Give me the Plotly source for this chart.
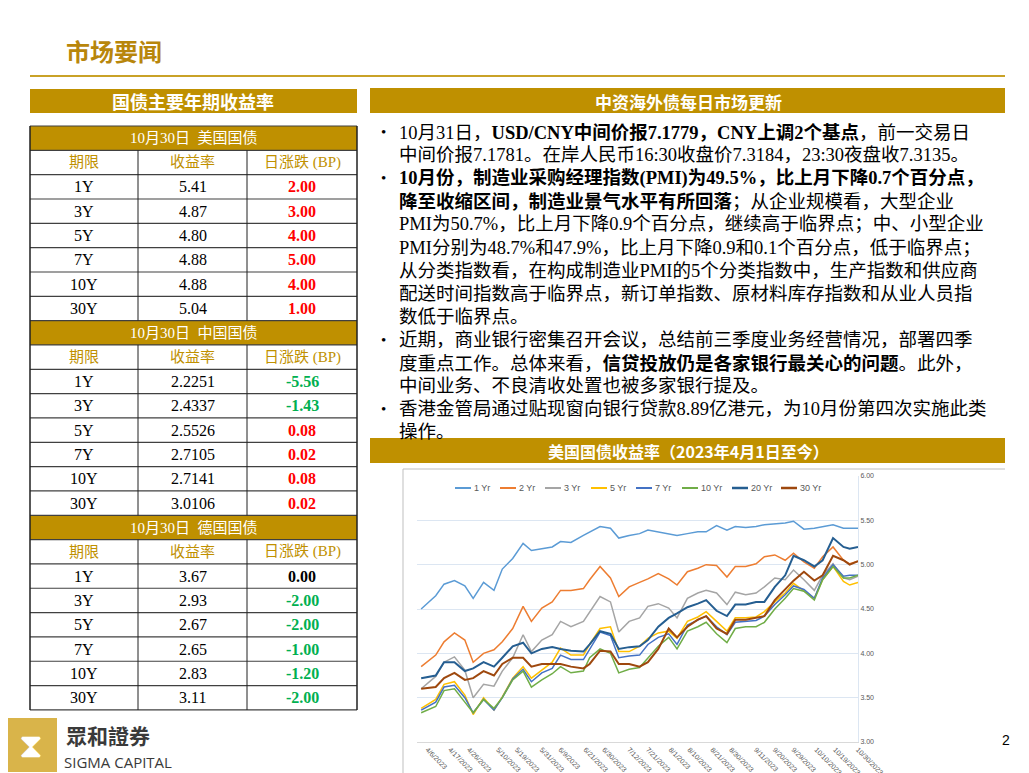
import plotly.graph_objects as go
import pandas as pd

W, H = 1029, 773
OFF = 8  # page body margin
GOLD = "#BF9000"
SERIF = "Liberation Serif, Noto Sans CJK SC"
CJK = "Noto Sans CJK SC"

# ---------------- data ----------------
DATES = ["2023-04-03","2023-04-10","2023-04-14","2023-04-19","2023-04-24","2023-04-28","2023-05-03",
         "2023-05-08","2023-05-12","2023-05-17","2023-05-22","2023-05-26","2023-05-31","2023-06-05",
         "2023-06-09","2023-06-14","2023-06-20","2023-06-23","2023-06-28","2023-07-03","2023-07-07",
         "2023-07-12","2023-07-17","2023-07-21","2023-07-26","2023-07-31","2023-08-04","2023-08-09",
         "2023-08-14","2023-08-18","2023-08-23","2023-08-28","2023-09-01","2023-09-06","2023-09-11",
         "2023-09-15","2023-09-20","2023-09-25","2023-09-29","2023-10-04","2023-10-09","2023-10-13",
         "2023-10-18","2023-10-23","2023-10-26","2023-10-30"]
Y1 = [4.50,4.65,4.78,4.82,4.76,4.62,4.80,4.71,4.95,5.07,5.24,5.16,5.18,5.20,5.26,5.25,5.33,5.37,5.43,5.41,
      5.30,5.33,5.35,5.39,5.37,5.35,5.33,5.35,5.37,5.37,5.44,5.39,5.43,5.42,5.43,5.45,5.46,5.47,5.49,5.40,
      5.41,5.43,5.45,5.41,5.41,5.41]
Y2 = [3.85,3.98,4.13,4.23,4.15,3.90,4.00,4.04,4.13,4.28,4.53,4.36,4.51,4.58,4.71,4.71,4.73,4.83,4.98,4.85,
      4.64,4.75,4.80,4.84,4.90,4.84,4.77,4.92,4.96,5.00,4.99,4.86,4.98,4.98,5.01,5.09,5.11,5.05,5.13,5.03,
      4.96,5.09,5.20,5.05,5.01,5.04]
Y3 = [3.60,3.74,3.90,3.96,3.81,3.50,3.65,3.63,3.80,3.95,4.21,4.02,4.15,4.21,4.36,4.30,4.36,4.47,4.64,4.58,
      4.24,4.36,4.40,4.53,4.56,4.51,4.40,4.62,4.68,4.71,4.68,4.55,4.69,4.66,4.68,4.75,4.85,4.83,4.94,4.83,
      4.71,4.88,5.01,4.85,4.83,4.87]
Y5 = [3.38,3.48,3.65,3.68,3.53,3.31,3.50,3.36,3.51,3.72,3.85,3.72,3.81,3.90,4.06,3.98,3.98,4.10,4.28,4.30,
      4.02,4.02,4.08,4.17,4.23,4.25,4.17,4.36,4.41,4.47,4.36,4.25,4.40,4.40,4.41,4.47,4.58,4.68,4.79,4.71,
      4.62,4.83,4.98,4.81,4.77,4.80]
Y7 = [3.36,3.45,3.62,3.64,3.50,3.33,3.48,3.36,3.50,3.71,3.82,3.68,3.78,3.83,3.98,3.93,3.93,4.05,4.24,4.20,
      3.95,3.97,3.98,4.10,4.18,4.22,4.10,4.32,4.38,4.42,4.30,4.21,4.35,4.36,4.37,4.42,4.55,4.66,4.76,4.72,
      4.62,4.85,5.00,4.87,4.88,4.88]
Y10 = [3.33,3.40,3.58,3.60,3.45,3.33,3.48,3.38,3.50,3.70,3.80,3.62,3.70,3.77,3.85,3.78,3.80,3.95,4.05,4.00,
       3.78,3.82,3.84,3.95,4.08,4.18,4.05,4.25,4.30,4.35,4.22,4.12,4.28,4.30,4.30,4.35,4.50,4.62,4.73,4.70,
       4.60,4.83,4.98,4.85,4.85,4.88]
Y20 = [3.72,3.75,3.90,3.90,3.80,3.83,3.90,3.85,3.95,4.08,4.12,4.00,4.05,4.07,4.05,4.03,4.02,4.10,4.25,4.22,
       4.05,4.07,4.08,4.15,4.30,4.40,4.45,4.52,4.56,4.60,4.48,4.42,4.55,4.55,4.58,4.58,4.75,4.88,5.10,5.05,
       4.98,5.05,5.30,5.20,5.18,5.20]
Y30 = [3.60,3.62,3.72,3.78,3.70,3.72,3.80,3.75,3.88,3.95,3.95,3.85,3.88,3.88,3.88,3.85,3.83,3.88,4.03,4.02,
       3.88,3.88,3.85,3.90,4.05,4.28,4.18,4.30,4.38,4.42,4.28,4.22,4.38,4.38,4.40,4.42,4.60,4.72,4.82,4.92,
       4.82,4.88,5.10,5.05,5.00,5.04]
SERIES_NAMES = ["1 Yr","2 Yr","3 Yr","5 Yr","7 Yr","10 Yr","20 Yr","30 Yr"]
SERIES_COLORS = ["#5B9BD5","#ED7D31","#A5A5A5","#FFC000","#4472C4","#70AD47","#255E91","#9E480E"]
SERIES_WIDTHS = [1.5,1.5,1.5,1.5,1.5,1.5,2,2]
TICK_LABELS = ["4/6/2023","4/17/2023","4/26/2023","5/10/2023","5/19/2023","5/31/2023","6/9/2023",
               "6/21/2023","6/30/2023","7/12/2023","7/21/2023","8/1/2023","8/10/2023","8/21/2023",
               "8/30/2023","9/11/2023","9/20/2023","9/29/2023","10/10/2023","10/19/2023","10/30/2023"]

TERMS = ["1Y","3Y","5Y","7Y","10Y","30Y"]
US_YIELD = ["5.41","4.87","4.80","4.88","4.88","5.04"]
US_CHG = ["2.00","3.00","4.00","5.00","4.00","1.00"]
CN_YIELD = ["2.2251","2.4337","2.5526","2.7105","2.7141","3.0106"]
CN_CHG = ["-5.56","-1.43","0.08","0.02","0.08","0.02"]
DE_YIELD = ["3.67","2.93","2.67","2.65","2.83","3.11"]
DE_CHG = ["0.00","-2.00","-2.00","-1.00","-1.20","-2.00"]
SECTIONS = [("10月30日  美国国债", US_YIELD, US_CHG),
            ("10月30日  中国国债", CN_YIELD, CN_CHG),
            ("10月30日  德国国债", DE_YIELD, DE_CHG)]

BULLETS = [
    (True, "10月31日，<b>USD/CNY中间价报7.1779，CNY上调2个基点</b>，前一交易日"),
    (False, "中间价报7.1781。在岸人民币16:30收盘价7.3184，23:30夜盘收7.3135。"),
    (True, "<b>10月份，制造业采购经理指数(PMI)为49.5%，比上月下降0.7个百分点，</b>"),
    (False, "<b>降至收缩区间，制造业景气水平有所回落</b>；从企业规模看，大型企业"),
    (False, "PMI为50.7%，比上月下降0.9个百分点，继续高于临界点；中、小型企业"),
    (False, "PMI分别为48.7%和47.9%，比上月下降0.9和0.1个百分点，低于临界点；"),
    (False, "从分类指数看，在构成制造业PMI的5个分类指数中，生产指数和供应商"),
    (False, "配送时间指数高于临界点，新订单指数、原材料库存指数和从业人员指"),
    (False, "数低于临界点。"),
    (True, "近期，商业银行密集召开会议，总结前三季度业务经营情况，部署四季"),
    (False, "度重点工作。总体来看，<b>信贷投放仍是各家银行最关心的问题</b>。此外，"),
    (False, "中间业务、不良清收处置也被多家银行提及。"),
    (True, "香港金管局通过贴现窗向银行贷款8.89亿港元，为10月份第四次实施此类"),
    (False, "操作。"),
]

# ---------------- helpers ----------------
def px(x): return (x - OFF) / W
def py(y): return 1 - (y - OFF) / H

shapes, annos = [], []
def rect(x0, y0, x1, y1, fill=None):
    shapes.append(dict(type="rect", xref="paper", yref="paper", x0=px(x0), x1=px(x1), y0=py(y1), y1=py(y0),
                       fillcolor=fill, line=dict(width=0), layer="below"))
def hline(x0, x1, y, color, w=1):
    shapes.append(dict(type="line", xref="paper", yref="paper", x0=px(x0), x1=px(x1), y0=py(y), y1=py(y),
                       line=dict(color=color, width=w)))
def vline(x, y0, y1, color, w=1):
    shapes.append(dict(type="line", xref="paper", yref="paper", x0=px(x), x1=px(x), y0=py(y0), y1=py(y1),
                       line=dict(color=color, width=w)))
def text(x, y, s, size, color="black", family=SERIF, anchor="center"):
    annos.append(dict(xref="paper", yref="paper", x=px(x), y=py(y), text=s, showarrow=False,
                      xanchor=anchor, yanchor="middle", font=dict(size=size, color=color, family=family)))

# ---------------- header ----------------
text(64, 50, "<b>市场要闻</b>", 24, "#B8860B", CJK, "left")
hline(30, 1005, 76, "#C9A227", 2)

rect(30, 89, 357, 113, GOLD)
text(193, 101, "<b>国债主要年期收益率</b>", 18, "white", CJK)
rect(370, 88, 1005, 113, GOLD)
text(688, 101, "<b>中资海外债每日市场更新</b>", 17, "white", CJK)
rect(370, 438, 1005, 463, GOLD)
text(688, 451, "<b>美国国债收益率（2023年4月1日至今）</b>", 16, "white", CJK)

# ---------------- tables ----------------
X0, X1, X2, X3 = 30, 138, 247, 357
RH = 24.33
top = 126
row = 0
for title, ylds, chgs in SECTIONS:
    y0 = top + row * RH
    rect(X0, y0, X3, y0 + RH, GOLD)
    text((X0 + X3) / 2, y0 + RH / 2, title, 15, "white")
    row += 1
    y0 = top + row * RH
    for a, b, s in [(X0, X1, "期限"), (X1, X2, "收益率"), (X2, X3, "日涨跌 (BP)")]:
        text((a + b) / 2, y0 + RH / 2, s, 15, "#C09000")
    row += 1
    for t, yv, cv in zip(TERMS, ylds, chgs):
        y0 = top + row * RH
        col = "#00B050" if cv.startswith("-") else ("black" if float(cv) == 0 else "#FF0000")
        text((X0 + X1) / 2, y0 + RH / 2, t, 16, "black")
        text((X1 + X2) / 2, y0 + RH / 2, yv, 16, "black")
        text((X2 + X3) / 2, y0 + RH / 2, "<b>" + cv + "</b>", 16, col)
        row += 1
ybot = top + row * RH
for r in range(row + 1):
    hline(X0, X3, top + r * RH, "#404040", 1.2)
vline(X0, top, ybot, "#202020", 1.5)
vline(X3, top, ybot, "#202020", 1.5)
for r in range(row):
    y0 = top + r * RH
    if r % 8 != 0:
        vline(X1, y0, y0 + RH, "#202020", 1)
        vline(X2, y0, y0 + RH, "#202020", 1)

# ---------------- bullets ----------------
LINE_Y0, LH = 132, 23.1
for i, (bul, s) in enumerate(BULLETS):
    y = LINE_Y0 + i * LH
    if bul:
        text(383, y, "•", 15, "black", SERIF)
    text(397, y, s, 18.5, "black", SERIF, "left")

# ---------------- chart frame ----------------
hline(403, 1005, 469, "#BFBFBF", 1)
vline(403, 469, 773, "#BFBFBF", 1)

# ---------------- chart legend (drawn manually, compact like the original) ----------------
LEG_X = [455, 500, 545, 591, 636, 682, 732, 781]
for lx, name, c, w in zip(LEG_X, SERIES_NAMES, SERIES_COLORS, SERIES_WIDTHS):
    hline(lx, lx + 16, 488, c, w + 0.5)
    text(lx + 17, 488, name, 9, "#595959", "Liberation Sans", "left")

# ---------------- logo ----------------
rect(5, 718, 57, 772, "#D9B44A")
text(31, 745, "⧗", 34, "white", "DejaVu Sans")
text(64, 735, "<b>眾和證券</b>", 21, "#3A3A3A", "Noto Sans CJK TC", "left")
text(62, 762, "SIGMA CAPITAL", 15, "#3A3A3A", "Open Sans", "left")
text(1006, 740, "2", 14, "black", "Liberation Sans")

# ---------------- chart ----------------
fig = go.Figure()
dates = pd.to_datetime(DATES)
for name, ys, c, w in zip(SERIES_NAMES, [Y1, Y2, Y3, Y5, Y7, Y10, Y20, Y30], SERIES_COLORS, SERIES_WIDTHS):
    fig.add_trace(go.Scatter(x=dates, y=ys, name=name, mode="lines", line=dict(color=c, width=w)))

tickvals = pd.to_datetime(TICK_LABELS, format="%m/%d/%Y")
fig.update_layout(
    width=W, height=H, margin=dict(l=0, r=0, t=0, b=0, pad=0, autoexpand=False),
    paper_bgcolor="white", plot_bgcolor="white",
    shapes=shapes, annotations=annos, showlegend=False,
    xaxis=dict(domain=[px(417), px(858)], range=[pd.Timestamp("2023-04-01"), pd.Timestamp("2023-10-30")],
               tickvals=tickvals, ticktext=TICK_LABELS, tickangle=45, showgrid=False,
               tickfont=dict(size=7, color="#595959", family="Liberation Sans"),
               showline=True, linecolor="#D9D9D9", ticks="", automargin=False),
    yaxis=dict(domain=[py(742), py(476)], range=[3.0, 6.0], side="right", dtick=0.5, tickformat=".2f",
               gridcolor="#DCE6F2", tickfont=dict(size=7, color="#595959", family="Liberation Sans"),
               showline=True, linecolor="#DCE6F2", zeroline=False, automargin=False),
)
fig.write_html("out.html")
